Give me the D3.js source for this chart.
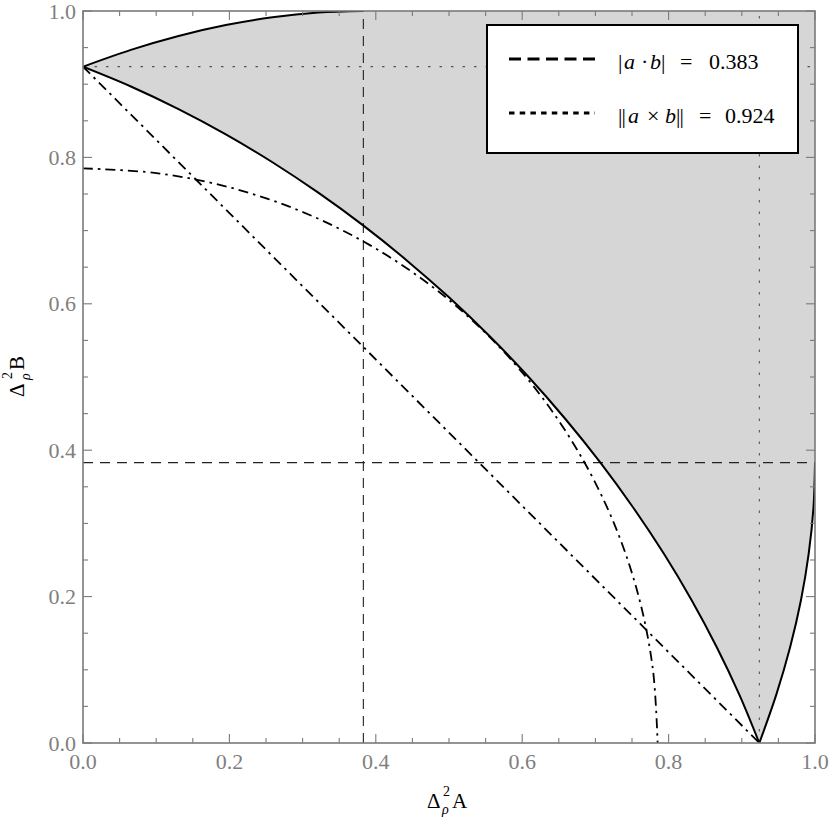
<!DOCTYPE html>
<html>
<head>
<meta charset="utf-8">
<script src="https://cdn.jsdelivr.net/npm/d3@7"></script>
<style>
  html, body { margin: 0; padding: 0; background: #fff; }
  svg { display: block; }
  svg text { font-family: "Liberation Serif", "Times New Roman", "DejaVu Serif", serif; }
</style>
</head>
<body>
<svg id="chart" width="830" height="821"></svg>
<script>
// ---------- data ----------
const xTicks = [0, 0.2, 0.4, 0.6, 0.8, 1.0];
const yTicks = [0, 0.2, 0.4, 0.6, 0.8, 1.0];
const minorStep = 0.05;

const dotValue = 0.383;    // |a·b|
const crossValue = 0.924;  // ||a×b||

// shaded-region boundary (solid curve), three branches
const boundaryUpper = [[0.3827,1.0000],[0.3214,0.9979],[0.2588,0.9914],[0.1951,0.9808],[0.1305,0.9659],[0.0654,0.9469],[0,0.9239]];
const boundaryMiddle = [[0,0.9239],[0.0654,0.8969],[0.1305,0.8660],[0.1951,0.8315],[0.2588,0.7934],[0.3214,0.7518],[0.3827,0.7071],[0.4423,0.6593],[0.5,0.6088],[0.5556,0.5556],[0.6088,0.5],[0.6593,0.4423],[0.7071,0.3827],[0.7518,0.3214],[0.7934,0.2588],[0.8315,0.1951],[0.8660,0.1305],[0.8969,0.0654],[0.9239,0]];
const boundaryRight = [[0.9239,0],[0.9469,0.0654],[0.9659,0.1305],[0.9808,0.1951],[0.9914,0.2588],[0.9979,0.3214],[1.0,0.3827]];
const regionCorner = [1, 1];

// dash-dot bounds
const arcBound = [[0,0.785],[0.1025,0.7783],[0.2032,0.7583],[0.3004,0.7253],[0.3925,0.6798],[0.4779,0.6228],[0.5551,0.5551],[0.6228,0.4779],[0.6798,0.3925],[0.7253,0.3004],[0.7583,0.2032],[0.7783,0.1025],[0.785,0]];
const lineBound = [[0,0.924],[0.924,0]];

const legendItems = [
  { dash: "12,6.5", parts: [["|",0],["a",6,true],["·",23],["b",32,true],["|",43],["=",62],["0.383",91]] },
  { dash: "5.5,5.2", parts: [["|",0],["|",3.5],["a",10,true],["×",29],["b",47,true],["|",58],["|",61.5],["=",81],["0.924",107]] }
];

// ---------- layout ----------
const svg = d3.select("#chart");
const X0 = 83, X1 = 815, Y0 = 743, Y1 = 11;
const x = d3.scaleLinear().domain([0, 1]).range([X0, X1]);
const y = d3.scaleLinear().domain([0, 1]).range([Y0, Y1]);

svg.append("defs").append("clipPath").attr("id", "plotclip")
  .append("rect").attr("x", X0).attr("y", Y1).attr("width", X1 - X0).attr("height", Y0 - Y1);

const plot = svg.append("g").attr("clip-path", "url(#plotclip)");

const curve = d3.line().x(d => x(d[0])).y(d => y(d[1])).curve(d3.curveCatmullRom.alpha(0.5));

// shaded region
const fillPath = curve(boundaryUpper) +
  curve(boundaryMiddle).replace(/^M/, "L") +
  curve(boundaryRight).replace(/^M/, "L") +
  "L" + x(regionCorner[0]) + "," + y(regionCorner[1]) + "Z";
plot.append("path").attr("d", fillPath).attr("fill", "#d6d6d6").attr("stroke", "none");

// reference lines
plot.append("line").attr("x1", x(dotValue)).attr("x2", x(dotValue)).attr("y1", Y0).attr("y2", Y1)
  .attr("stroke", "#222").attr("stroke-width", 1.1).attr("stroke-dasharray", "10,7");
plot.append("line").attr("x1", X0).attr("x2", X1).attr("y1", y(dotValue)).attr("y2", y(dotValue))
  .attr("stroke", "#222").attr("stroke-width", 1.1).attr("stroke-dasharray", "10,7");
plot.append("line").attr("x1", x(crossValue)).attr("x2", x(crossValue)).attr("y1", Y0).attr("y2", Y1)
  .attr("stroke", "#555").attr("stroke-width", 1.1).attr("stroke-dasharray", "2.5,9");
plot.append("line").attr("x1", X0).attr("x2", X1).attr("y1", y(crossValue)).attr("y2", y(crossValue))
  .attr("stroke", "#555").attr("stroke-width", 1.1).attr("stroke-dasharray", "2.5,9");

// dash-dot bounds
[arcBound, lineBound].forEach(pts => {
  plot.append("path").attr("d", curve(pts)).attr("fill", "none")
    .attr("stroke", "#000").attr("stroke-width", 1.8).attr("stroke-dasharray", "10,5,2.5,5");
});

// solid boundary
[boundaryUpper, boundaryMiddle, boundaryRight].forEach(pts => {
  plot.append("path").attr("d", curve(pts)).attr("fill", "none")
    .attr("stroke", "#000").attr("stroke-width", 2).attr("stroke-linejoin", "round");
});

// ---------- frame and ticks ----------
const axisColor = "#7a7a7a";
const frame = svg.append("g");
const minors = d3.range(0, 1.0001, minorStep);
minors.forEach(v => {
  const isMajor = Math.abs(v / 0.2 - Math.round(v / 0.2)) < 1e-6;
  const len = isMajor ? 9 : 5;
  frame.append("line").attr("x1", x(v)).attr("x2", x(v)).attr("y1", Y0).attr("y2", Y0 - len)
    .attr("stroke", axisColor).attr("stroke-width", 1.1);
  frame.append("line").attr("x1", x(v)).attr("x2", x(v)).attr("y1", Y1).attr("y2", Y1 + len)
    .attr("stroke", axisColor).attr("stroke-width", 1.1);
  frame.append("line").attr("y1", y(v)).attr("y2", y(v)).attr("x1", X0).attr("x2", X0 + len)
    .attr("stroke", axisColor).attr("stroke-width", 1.1);
  frame.append("line").attr("y1", y(v)).attr("y2", y(v)).attr("x1", X1).attr("x2", X1 - len)
    .attr("stroke", axisColor).attr("stroke-width", 1.1);
});
frame.append("rect").attr("x", X0).attr("y", Y1).attr("width", X1 - X0).attr("height", Y0 - Y1)
  .attr("fill", "none").attr("stroke", axisColor).attr("stroke-width", 1.6);

// tick labels
svg.append("g").selectAll("text").data(xTicks).join("text")
  .attr("x", d => x(d)).attr("y", 769)
  .attr("text-anchor", "middle")
  .attr("font-size", 22).attr("fill", "#7f7f7f")
  .text(d => d.toFixed(1));
svg.append("g").selectAll("text").data(yTicks).join("text")
  .attr("x", 76).attr("y", d => y(d) + 7.5)
  .attr("text-anchor", "end")
  .attr("font-size", 22).attr("fill", "#7f7f7f")
  .text(d => d.toFixed(1));

// axis titles
function axisTitle(g, letter, supX, letterX) {
  g.append("text").attr("x", 0).attr("y", 0).attr("font-size", 21).text("Δ");
  g.append("text").attr("x", supX).attr("y", -12).attr("font-size", 14).text("2");
  g.append("text").attr("x", supX - 1).attr("y", 6).attr("font-size", 14)
    .attr("font-style", "italic").text("ρ");
  g.append("text").attr("x", letterX).attr("y", 0).attr("font-size", 21).text(letter);
}
axisTitle(svg.append("g").attr("transform", "translate(427,808)"), "A", 16, 25);
axisTitle(svg.append("g").attr("transform", "translate(24,397) rotate(-90)"), "B", 18, 27);

// ---------- legend ----------
const lg = svg.append("g");
lg.append("rect").attr("x", 487).attr("y", 25).attr("width", 311).attr("height", 128)
  .attr("fill", "#fff").attr("stroke", "#000").attr("stroke-width", 2);
legendItems.forEach((it, i) => {
  const cy = 59 + i * 54;
  lg.append("line").attr("x1", 509).attr("x2", 595).attr("y1", cy).attr("y2", cy)
    .attr("stroke", "#000").attr("stroke-width", 3).attr("stroke-dasharray", it.dash);
  const t = lg.append("text").attr("y", cy + 10).attr("font-size", 22).attr("fill", "#000");
  it.parts.forEach(p => {
    t.append("tspan").attr("x", 618 + p[1]).attr("font-style", p[2] ? "italic" : "normal").text(p[0]);
  });
});
</script>
</body>
</html>
